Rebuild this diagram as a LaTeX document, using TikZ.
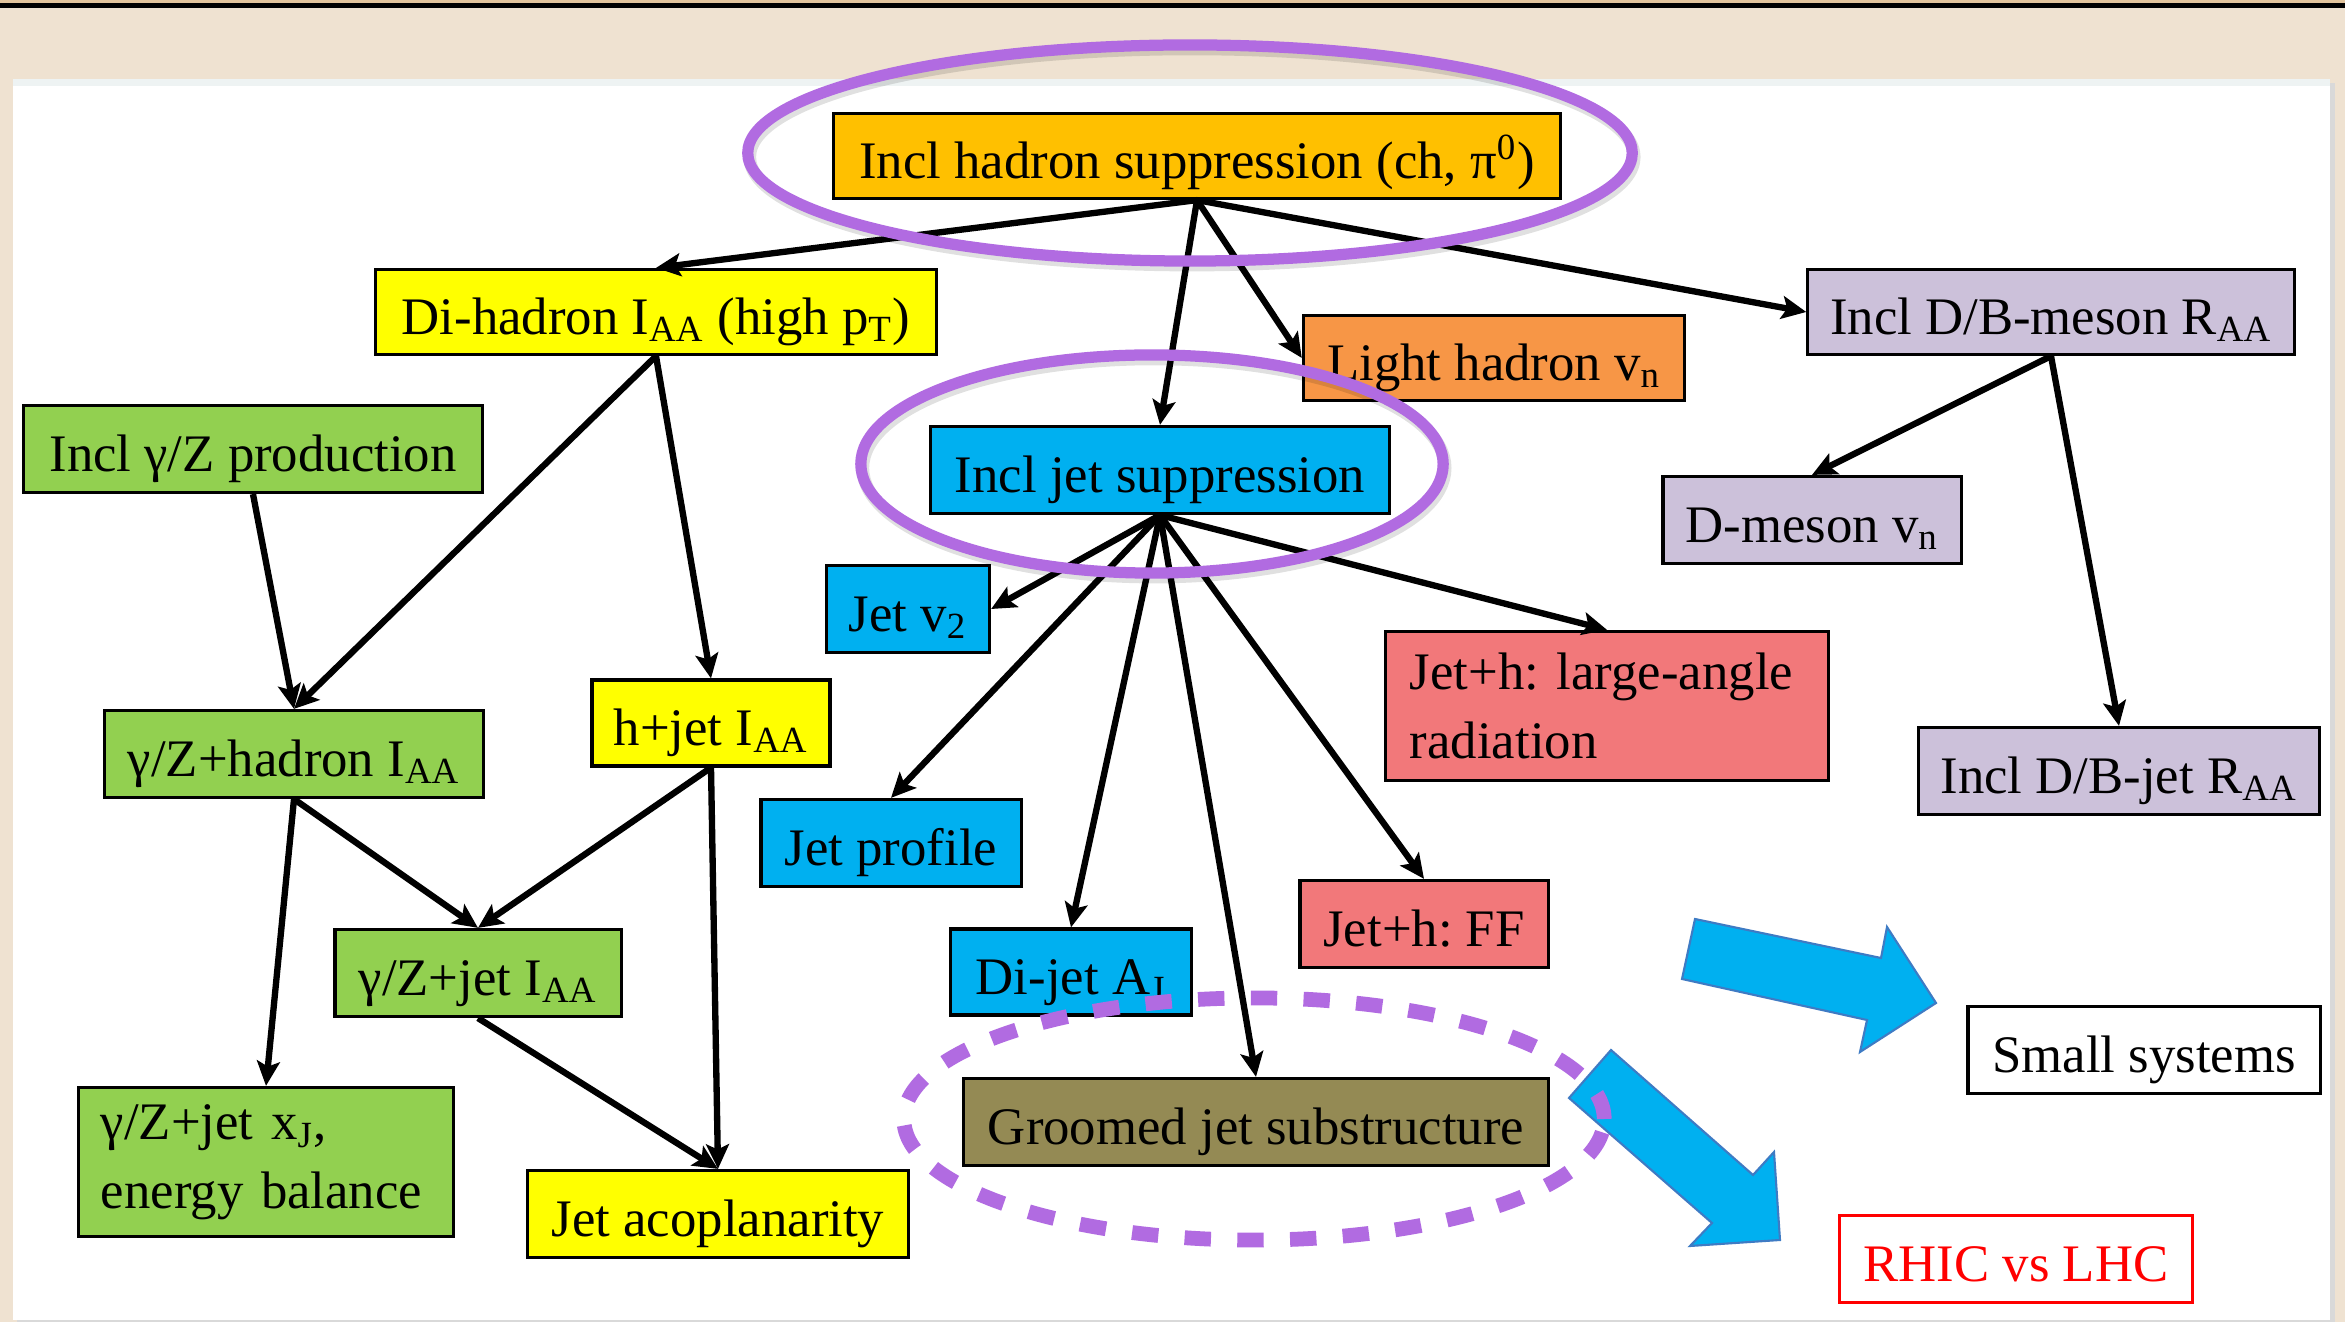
\documentclass[tikz,border=0pt]{standalone}
\usepackage{fontspec}
\setmainfont{Liberation Serif}
\usetikzlibrary{arrows.meta}
\frenchspacing

\definecolor{hadorange}{HTML}{FFC000}
\definecolor{hiyellow}{HTML}{FFFF00}
\definecolor{lightorange}{HTML}{F79646}
\definecolor{lavender}{HTML}{CCC1DA}
\definecolor{leafgreen}{HTML}{92D050}
\definecolor{skyblue}{HTML}{00B0F0}
\definecolor{salmonred}{HTML}{F2787A}
\definecolor{mossbox}{HTML}{948A54}
\definecolor{ringpurple}{HTML}{B16BE1}
\definecolor{woodbg}{HTML}{EFE2D1}
\definecolor{woodtan}{HTML}{E2C49C}
\definecolor{panelstrip}{HTML}{EEF3F3}
\definecolor{arrowedge}{HTML}{3E7BC4}

\begin{document}
\begin{tikzpicture}[x=0.01cm, y=-0.01cm,
  boxbase/.style={draw=black, line width=0.9pt, minimum height=0.87cm, inner sep=0pt,
    font=\fontsize{15}{19.5}\selectfont},
  box/.style={boxbase, text height=0.48cm, text depth=0.04cm},
  twoline/.style={boxbase, minimum height=1.49cm, align=left, inner xsep=0.24cm},
  conn/.style={line width=1.8pt, -{Stealth[length=7pt, width=6.5pt, inset=1.5pt]}},
  ring/.style={draw=ringpurple, line width=3.2pt},
  ringshadow/.style={draw=black, opacity=0.12, line width=3.6pt},
  dashring/.style={draw=ringpurple, line width=4.2pt, dash pattern=on 7.5pt off 7.5pt},
  bigarrow/.style={fill=skyblue, draw=arrowedge, line width=0.6pt, line join=miter}]
\useasboundingbox (0,0) rectangle (2345,1322);

% slide background
\fill[woodbg] (0,0) rectangle (2345,1322);
\fill[woodtan] (0,0) rectangle (2345,4);
\draw[line width=1.3pt] (0,5.5) -- (2345,5.5);
\fill[black!15] (17,83) rectangle (2335,1322);
\fill[white] (13,79) rectangle (2330,1320);
\fill[panelstrip] (13,79) rectangle (2330,86);

% boxes
\node[box, fill=hadorange, minimum width=7.26cm, minimum height=0.85cm] (hadsupp) at (1197,156) {Incl hadron suppression (ch, π\textsuperscript{0})};
\node[box, fill=hiyellow, minimum width=5.61cm, minimum height=0.85cm] (dihadron) at (656,312) {Di-hadron I\textsubscript{AA} (high p\textsubscript{T})};
\node[box, fill=lightorange, minimum width=3.81cm, minimum height=0.85cm] (lighthad) at (1494,358) {Light hadron v\textsubscript{n}};
\node[box, fill=lavender, minimum width=4.86cm, minimum height=0.85cm] (dbmeson) at (2051,312) {Incl D/B-meson R\textsubscript{AA}};
\node[box, fill=leafgreen, minimum width=4.58cm] (gzprod) at (253,449) {Incl γ/Z production};
\node[box, fill=skyblue, minimum width=4.59cm] (jetsupp) at (1160,470) {Incl jet suppression};
\node[box, fill=lavender, minimum width=2.98cm] (dmesonvn) at (1812,520) {D-meson v\textsubscript{n}};
\node[box, fill=skyblue, minimum width=1.63cm] (jetvtwo) at (908,609) {Jet v\textsubscript{2}};
\node[twoline, fill=salmonred, text width=3.94cm] (largeangle) at (1607,706) {Jet+h: large-angle\\radiation};
\node[box, fill=leafgreen, minimum width=3.78cm] (gzhadron) at (294,754) {γ/Z+hadron I\textsubscript{AA}};
\node[box, fill=hiyellow, minimum width=2.38cm, minimum height=0.86cm] (hjet) at (711,723) {h+jet I\textsubscript{AA}};
\node[box, fill=lavender, minimum width=4.01cm] (dbjet) at (2119,771) {Incl D/B-jet R\textsubscript{AA}};
\node[box, fill=skyblue, minimum width=2.60cm] (jetprofile) at (891,843) {Jet profile};
\node[box, fill=salmonred, minimum width=2.48cm] (jethff) at (1424,924) {Jet+h: FF};
\node[box, fill=leafgreen, minimum width=2.86cm] (gzjet) at (478,973) {γ/Z+jet I\textsubscript{AA}};
\node[box, fill=skyblue, minimum width=2.41cm, minimum height=0.86cm] (dijet) at (1071,972) {Di-jet A\textsubscript{J}};
\node[box, fill=white, minimum width=3.52cm] (smallsys) at (2144,1050) {Small systems};
\node[twoline, fill=leafgreen, text width=3.30cm, inner xsep=0.22cm] (gzjetxj) at (266,1162) {γ/Z+jet x\textsubscript{J},\\energy balance};
\node[box, fill=mossbox, minimum width=5.85cm] (groomed) at (1256,1122) {Groomed jet substructure};
\node[box, fill=hiyellow, minimum width=3.80cm] (acoplan) at (718,1214) {Jet acoplanarity};
\node[box, draw=red, fill=white, text=red, minimum width=3.53cm] (rhiclhc) at (2016,1259) {RHIC vs LHC};

% connectors
\draw[conn] (hadsupp.south) -- (dihadron.north);
\draw[conn] (hadsupp.south) -- (jetsupp.north);
\draw[conn] (hadsupp.south) -- (lighthad.west);
\draw[conn] (hadsupp.south) -- (dbmeson.west);
\draw[conn] (dihadron.south) -- (gzhadron.north);
\draw[conn] (dihadron.south) -- (hjet.north);
\draw[conn] (gzprod.south) -- (gzhadron.north);
\draw[conn] (gzhadron.south) -- (gzjet.north);
\draw[conn] (gzhadron.south) -- (gzjetxj.north);
\draw[conn] (hjet.south) -- (gzjet.north);
\draw[conn] (hjet.south) -- (acoplan.north);
\draw[conn] (gzjet.south) -- (acoplan.north);
\draw[conn] (jetsupp.south) -- (jetvtwo.east);
\draw[conn] (jetsupp.south) -- (jetprofile.north);
\draw[conn] (jetsupp.south) -- (dijet.north);
\draw[conn] (jetsupp.south) -- (groomed.north);
\draw[conn] (jetsupp.south) -- (jethff.north);
\draw[conn] (jetsupp.south) -- (largeangle.north);
\draw[conn] (dbmeson.south) -- (dmesonvn.north);
\draw[conn] (dbmeson.south) -- (dbjet.north);

% block arrows
\path[bigarrow] (1695,919) -- (1881,958) -- (1887,927) -- (1936,1003) -- (1860,1052) -- (1867,1020) -- (1682,979) -- cycle;
\path[bigarrow] (1611,1050) -- (1753,1175) -- (1774,1152) -- (1780,1240) -- (1690,1246) -- (1712,1223) -- (1569,1098) -- cycle;

% highlight rings
\draw[ringshadow] (1192,157) ellipse [x radius=4.42cm, y radius=1.08cm];
\draw[ring] (1190,153) ellipse [x radius=4.42cm, y radius=1.08cm];
\draw[ringshadow] (1154,468) ellipse [x radius=2.91cm, y radius=1.09cm];
\draw[ring] (1152,464) ellipse [x radius=2.91cm, y radius=1.09cm];
\draw[dashring] (1254,1119) ellipse [x radius=3.50cm, y radius=1.21cm];

\end{tikzpicture}
\end{document}
